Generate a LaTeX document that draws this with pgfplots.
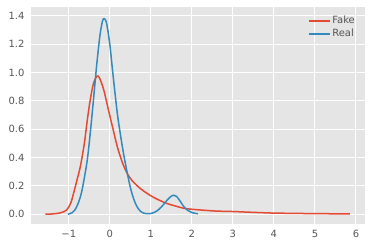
\documentclass[border=0pt]{standalone}
\usepackage{pgfplots}
\pgfplotsset{compat=1.18}
\usepackage{fontspec}
\setmainfont{DejaVu Sans}
\definecolor{ggbg}{HTML}{E5E5E5}
\definecolor{ggred}{HTML}{E24A33}
\definecolor{ggblue}{HTML}{348ABD}
\definecolor{ggtext}{HTML}{555555}
\begin{document}
\begin{tikzpicture}
\path[use as bounding box] (0,0) rectangle (372bp,248bp);
\begin{axis}[
  at={(31bp,24bp)}, anchor=south west,
  scale only axis, width=334bp, height=217.3bp,
  xmin=-1.92, xmax=6.22, ymin=-0.069, ymax=1.464,
  axis background/.style={fill=ggbg},
  axis line style={draw=none},
  major tick length=0pt,
  grid=major,
  major grid style={white, line width=1bp},
  xtick={-1,0,1,2,3,4,5,6},
  xticklabels={−1,0,1,2,3,4,5,6},
  ytick={0,0.2,0.4,0.6,0.8,1.0,1.2,1.4},
  yticklabels={0.0,0.2,0.4,0.6,0.8,1.0,1.2,1.4},
  tick label style={font=\fontsize{10}{12}\selectfont, text=ggtext},
  xticklabel style={yshift=-3bp},
  yticklabel style={xshift=-3bp},
  legend style={draw=none, fill=none, at={(0.985,0.975)}, anchor=north east,
    font=\fontsize{10}{12}\selectfont, text=ggtext, row sep=0bp},
  legend cell align=left,
  legend image code/.code={\draw[#1] (0bp,0bp) -- (21bp,0bp);},
  every axis plot/.append style={line width=1.5bp},
]
\addplot[ggred, smooth, tension=0.5] coordinates {
(-1.57,0.000) (-1.4,0.002) (-1.2,0.010) (-1.05,0.030) (-0.95,0.08) (-0.88,0.15)
(-0.8,0.24) (-0.715,0.34) (-0.62,0.50) (-0.55,0.66) (-0.48,0.80) (-0.40,0.92)
(-0.31,0.975) (-0.25,0.96) (-0.15,0.88) (-0.02,0.72) (0.08,0.60) (0.18,0.48)
(0.30,0.37) (0.42,0.29) (0.55,0.235) (0.75,0.18) (1.0,0.13) (1.2,0.10)
(1.4,0.075) (1.6,0.058) (1.8,0.042) (2.0,0.035) (2.3,0.028) (2.6,0.022)
(3.0,0.019) (3.5,0.013) (4.0,0.008) (4.5,0.006) (5.0,0.004) (5.5,0.003) (5.85,0.002)
};
\addlegendentry{Fake}
\addplot[ggblue, smooth, tension=0.5] coordinates {
(-1.02,0.000) (-0.92,0.01) (-0.85,0.03) (-0.78,0.07) (-0.70,0.14) (-0.63,0.24)
(-0.55,0.38) (-0.48,0.56) (-0.40,0.80) (-0.32,1.05) (-0.24,1.26) (-0.18,1.36)
(-0.14,1.38) (-0.08,1.35) (0.00,1.20) (0.08,0.98) (0.18,0.72) (0.26,0.56)
(0.34,0.42) (0.42,0.30) (0.50,0.19) (0.58,0.11) (0.66,0.055) (0.75,0.02)
(0.85,0.006) (0.98,0.004) (1.1,0.015) (1.2,0.035) (1.3,0.065) (1.4,0.10)
(1.5,0.128) (1.56,0.134) (1.63,0.125) (1.72,0.09) (1.8,0.055) (1.9,0.027)
(2.0,0.012) (2.15,0.003)
};
\addlegendentry{Real}
\end{axis}
\end{tikzpicture}
\end{document}
